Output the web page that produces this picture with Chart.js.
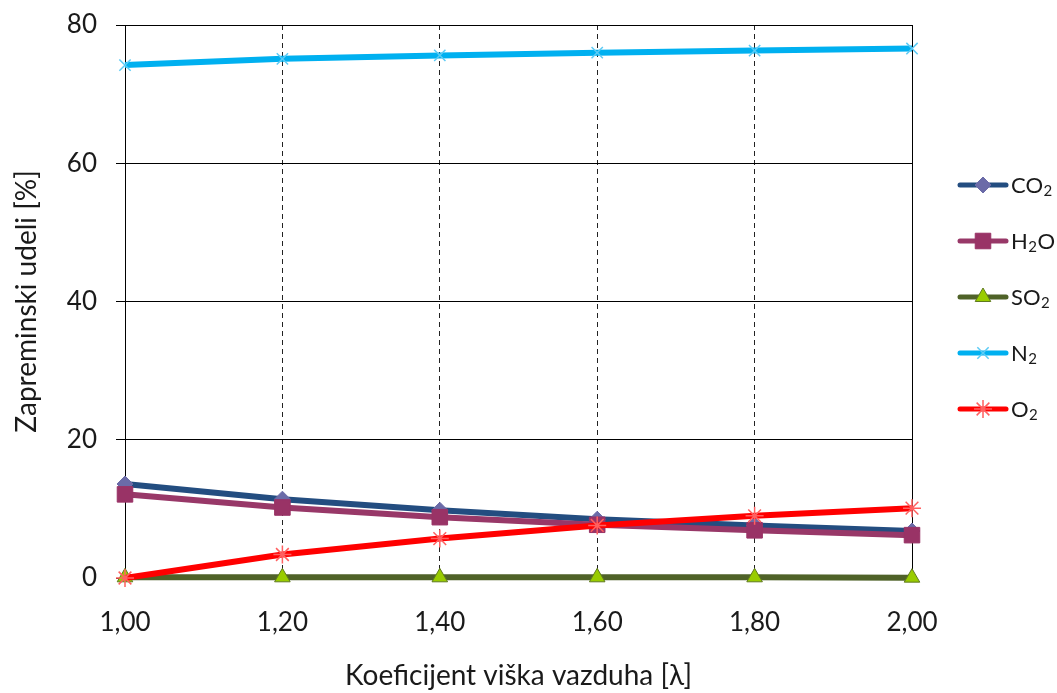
<!DOCTYPE html>
<html>
<head>
<meta charset="utf-8">
<script src="https://cdn.jsdelivr.net/npm/chart.js@4/dist/chart.umd.min.js"></script>
<style>
  html, body { margin: 0; padding: 0; background: #fff; }
  #wrap { width: 1057px; height: 693px; position: relative; }
</style>
</head>
<body>
<div id="wrap"><canvas id="c" width="1057" height="693"></canvas></div>
<script>
// ---- data ----
const categories = ['1,00', '1,20', '1,40', '1,60', '1,80', '2,00'];
const co2 = [13.6, 11.4, 9.8, 8.5, 7.6, 6.8];
const h2o = [12.1, 10.2, 8.8, 7.7, 6.9, 6.2];
const so2 = [0.1, 0.1, 0.1, 0.1, 0.1, 0.05];
const n2  = [74.2, 75.1, 75.6, 76.0, 76.3, 76.6];
const o2  = [0.0, 3.4, 5.7, 7.6, 9.0, 10.1];
const seriesNames = ['CO\u2082', 'H\u2082O', 'SO\u2082', 'N\u2082', 'O\u2082'];
// legend text split into [before, subscript, after]
const legendParts = [['CO', '2', ''], ['H', '2', 'O'], ['SO', '2', ''], ['N', '2', ''], ['O', '2', '']];
const yTicks = [0, 20, 40, 60, 80];
const xTitle = 'Koeficijent viška vazduha [\u03BB]';
const yTitle = 'Zapreminski udeli [%]';

const FONT = 'Lato, Carlito, "Open Sans", sans-serif';
const TXT = '#1a1a1a';

const frame = {
  id: 'frame',
  beforeDatasetsDraw(chart) {
    const {ctx, chartArea: a} = chart;
    ctx.save();
    ctx.strokeStyle = '#000';
    ctx.lineWidth = 1;
    ctx.setLineDash([]);
    ctx.strokeRect(Math.round(a.left) + 0.5, Math.round(a.top) + 0.5,
                   Math.round(a.right - a.left), Math.round(a.bottom - a.top));
    ctx.restore();
  }
};

const legendPlug = {
  id: 'customLegend',
  afterDraw(chart) {
    const {ctx} = chart;
    ctx.save();
    chart.data.datasets.forEach((ds, i) => {
      const y = 185 + i * 56;
      ctx.beginPath();
      ctx.strokeStyle = ds.borderColor;
      ctx.lineWidth = 5;
      ctx.lineCap = 'round';
      ctx.moveTo(960, y);
      ctx.lineTo(1006, y);
      ctx.stroke();
      const opts = {
        pointStyle: ds.pointStyle,
        radius: ds.pointRadius,
        rotation: 0,
        borderWidth: ds.pointBorderWidth
      };
      ctx.fillStyle = ds.pointBackgroundColor;
      ctx.strokeStyle = ds.pointBorderColor;
      ctx.lineWidth = ds.pointBorderWidth;
      ctx.lineCap = 'butt';
      if (Chart.helpers && Chart.helpers.drawPoint) {
        Chart.helpers.drawPoint(ctx, opts, 983, y);
      } else {
        ctx.fillRect(983 - 6, y - 6, 12, 12);
      }
      const [a, sub, b] = legendParts[i];
      ctx.fillStyle = TXT;
      ctx.textBaseline = 'alphabetic';
      ctx.textAlign = 'left';
      const base = y + 8;
      let x = 1011;
      ctx.font = '22px ' + FONT;
      ctx.fillText(a, x, base);
      x += ctx.measureText(a).width + 0.5;
      ctx.font = '15px ' + FONT;
      ctx.fillText(sub, x, base + 3);
      x += ctx.measureText(sub).width + 0.5;
      ctx.font = '22px ' + FONT;
      if (b) ctx.fillText(b, x, base);
    });
    ctx.restore();
  }
};

const mk = (label, data, line, fill, border, style, r, bw, order) => ({
  label, data,
  borderColor: line, backgroundColor: line,
  borderWidth: 6,
  pointStyle: style, pointRadius: r, pointHoverRadius: r,
  pointBackgroundColor: fill, pointBorderColor: border, pointBorderWidth: bw,
  tension: 0, fill: false, clip: false, order
});

new Chart(document.getElementById('c'), {
  type: 'line',
  data: {
    labels: categories,
    datasets: [
      mk(seriesNames[0], co2, '#234D80', '#6B6BA8', '#6B6BA8', 'rectRot', 8, 1, 5),
      mk(seriesNames[1], h2o, '#983868', '#993366', '#993366', 'rect', 11, 1, 4),
      mk(seriesNames[2], so2, '#4F6228', '#99CC00', '#5F7A1E', 'triangle', 9, 1, 3),
      mk(seriesNames[3], n2,  '#00B0F0', 'rgba(0,0,0,0)', '#5CCBF5', 'crossRot', 8, 1.5, 2),
      mk(seriesNames[4], o2,  '#FF0000', 'rgba(0,0,0,0)', '#FF6060', 'star', 9, 1.5, 1)
    ]
  },
  options: {
    responsive: false,
    animation: false,
    events: [],
    layout: { padding: { left: 0, top: 25, right: 145, bottom: 0 } },
    plugins: { legend: { display: false }, tooltip: { enabled: false } },
    scales: {
      x: {
        type: 'category',
        offset: false,
        afterFit(s) { s.height = 115; s.paddingLeft = 0; s.paddingRight = 0; s.paddingTop = 0; s.paddingBottom = 0; },
        grid: { display: true, drawOnChartArea: true, drawTicks: false, color: '#222', lineWidth: 1 },
        border: { display: true, color: '#000', width: 1, dash: [5, 4] },
        ticks: { color: TXT, font: { family: FONT, size: 26 }, padding: 29, maxRotation: 0, autoSkip: false },
        title: { display: true, text: xTitle, color: TXT, font: { family: FONT, size: 28 }, padding: { top: 0, bottom: 0 } }
      },
      y: {
        min: 0, max: 80,
        afterFit(s) { s.width = 125; s.paddingLeft = 0; s.paddingRight = 0; s.paddingTop = 0; s.paddingBottom = 0; },
        afterBuildTicks(s) { s.ticks = yTicks.map(v => ({ value: v })); },
        grid: { color: '#000', lineWidth: 1, drawTicks: true, tickLength: 9 },
        border: { display: true, color: '#000', width: 1 },
        ticks: { color: TXT, font: { family: FONT, size: 26 }, padding: 19 },
        title: { display: true, text: yTitle, color: TXT, font: { family: FONT, size: 28 }, padding: { top: 10, bottom: 0 } }
      }
    }
  },
  plugins: [frame, legendPlug]
});
</script>
</body>
</html>
